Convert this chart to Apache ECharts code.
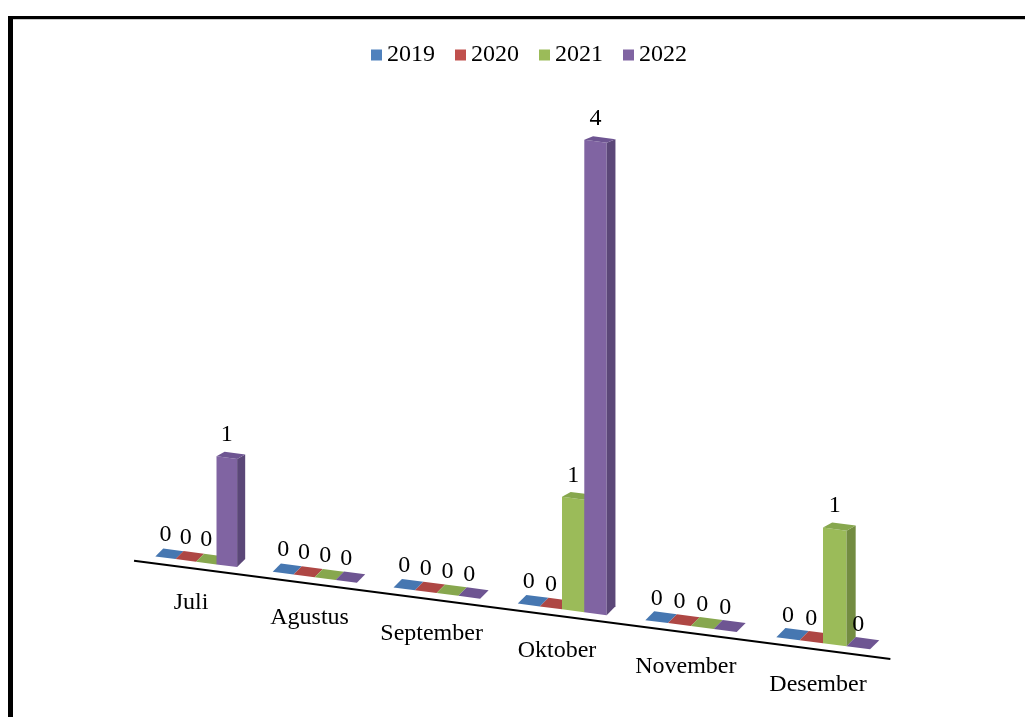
<!DOCTYPE html>
<html>
<head>
<meta charset="utf-8">
<title>Grafik 2019-2022</title>
<script src="https://cdn.jsdelivr.net/npm/echarts@6/dist/echarts.min.js"></script>
<style>
  html, body { margin: 0; padding: 0; background: #fff; }
  #chart { width: 1025px; height: 717px; }
</style>
</head>
<body>
<div id="chart"></div>
<script>
// Categories and values per year
const months = ['Juli', 'Agustus', 'September', 'Oktober', 'November', 'Desember'];
const years = ['2019', '2020', '2021', '2022'];
const v2019 = [0, 0, 0, 0, 0, 0];
const v2020 = [0, 0, 0, 0, 0, 0];
const v2021 = [0, 0, 0, 1, 0, 1];
const v2022 = [1, 0, 0, 4, 0, 0];
const seriesValues = [v2019, v2020, v2021, v2022];

// Face colours of the 3D prisms (front / right side / top)
const frontColors = ['#4F81BD', '#C0504D', '#9BBB59', '#8064A2'];
const sideColors  = ['#3A5F8D', '#8F3B39', '#738C41', '#5B4778'];
const topColors   = ['#4677B1', '#AE4744', '#87A74E', '#6E5592'];

// Perspective look of the floor
const TILT = 0.13;        // downward slope of the floor line
const CURVE = 1.7;        // foreshortening along the category axis
const VSTRETCH = 0.00015; // growth of tall prisms towards the viewer
const BAR_FRAC = 0.175;   // bar width as part of one category band
const DEPTH_X = 8;        // depth offset of the prisms
const DEPTH_Y = 8;
const FONT = '"Liberation Serif", "Times New Roman", serif';

function makeProjection(origin, band) {
  const X0 = origin[0];
  const k = CURVE / (band * band);
  return {
    x: lin => { const d = lin - X0; return X0 - 2 + d + k * d * d; },
    scale: lin => 1 + 2 * k * (lin - X0),
    floor: xs => origin[1] + TILT * (xs - X0)
  };
}

function renderBar(params, api) {
  const j = years.indexOf(params.seriesName);
  const cat = api.value(0);
  const val = api.value(1);
  const origin = api.coord([0, 0]);
  const base = api.coord([cat, 0]);
  const topPt = api.coord([cat, val]);
  const band = api.size([1, 0])[0];
  const P = makeProjection(origin, band);

  const w = band * BAR_FRAC;
  const l = base[0] - 2 * w + j * w;
  const r = l + w;
  const xl = P.x(l), xr = P.x(r);
  const s = P.scale((l + r) / 2);
  const hl = base[1] - topPt[1];
  const h = hl * (1 + VSTRETCH * hl) * (1 + 0.5 * (s - 1));
  const ybl = P.floor(xl), ybr = P.floor(xr);
  const dx = DEPTH_X * s;
  const dyB = -DEPTH_Y * s;
  const dyT = val > 0 ? -(4.5 - 0.4 * Math.min(val - 1, 3)) * s : dyB;

  const children = [];
  if (val > 0) {
    children.push({
      type: 'polygon',
      shape: { points: [[xl, ybl], [xr, ybr], [xr, ybr - h], [xl, ybl - h]] },
      style: { fill: frontColors[j] }
    });
    children.push({
      type: 'polygon',
      shape: { points: [[xr, ybr], [xr + dx, ybr + dyB], [xr + dx, ybr - h + dyT], [xr, ybr - h]] },
      style: { fill: sideColors[j] }
    });
  }
  children.push({
    type: 'polygon',
    shape: { points: [[xl, ybl - h], [xr, ybr - h], [xr + dx, ybr - h + dyT], [xl + dx, ybl - h + dyT]] },
    style: { fill: topColors[j] }
  });
  children.push({
    type: 'text',
    style: {
      x: (xl + xr) / 2,
      y: (ybl + ybr) / 2 - h - 23,
      text: String(val),
      fill: '#000',
      font: '24px ' + FONT,
      align: 'center',
      verticalAlign: 'middle'
    }
  });
  return { type: 'group', children: children };
}

function renderAxis(params, api) {
  const cat = api.value(0);
  const origin = api.coord([0, 0]);
  const base = api.coord([cat, 0]);
  const band = api.size([1, 0])[0];
  const P = makeProjection(origin, band);
  const xs = P.x(base[0]);
  const children = [];
  if (params.dataIndex === 0) {
    const x1 = P.x(origin[0] - band / 2 - 4);
    const x2 = P.x(origin[0] + (months.length - 0.5) * band);
    children.push({
      type: 'line',
      shape: { x1: x1, y1: P.floor(x1) + 7, x2: x2, y2: P.floor(x2) + 7 },
      style: { stroke: '#000', lineWidth: 2 }
    });
  }
  children.push({
    type: 'text',
    style: {
      x: xs - 5,
      y: P.floor(xs) + 41,
      text: months[cat],
      fill: '#000',
      font: '24px ' + FONT,
      align: 'center',
      verticalAlign: 'middle'
    }
  });
  return { type: 'group', children: children };
}

const chart = echarts.init(document.getElementById('chart'), null, { renderer: 'canvas' });

const barSeries = years.map((y, j) => ({
  name: y,
  type: 'custom',
  renderItem: renderBar,
  itemStyle: { color: frontColors[j] },
  encode: { x: 0, y: 1 },
  data: seriesValues[j].map((v, i) => [i, v]),
  silent: true,
  z: 3
}));

chart.setOption({
  backgroundColor: '#fff',
  animation: false,
  legend: {
    data: years,
    left: 366,
    top: 38,
    icon: 'rect',
    itemWidth: 11,
    itemHeight: 11,
    itemGap: 20,
    textStyle: { fontFamily: FONT, fontSize: 24, color: '#000' }
  },
  grid: { left: 139.55, right: 184.05, top: 32, bottom: 155 },
  xAxis: { type: 'category', data: months, show: false },
  yAxis: { type: 'value', min: 0, max: 5, show: false },
  graphic: [
    { type: 'rect', shape: { x: 8, y: 16, width: 5, height: 701 }, style: { fill: '#000' } },
    { type: 'rect', shape: { x: 8, y: 16, width: 1017, height: 3 }, style: { fill: '#000' } },
    { type: 'line', shape: { x1: 13, y1: 19.5, x2: 1025, y2: 19.5 }, style: { stroke: '#c8c8c8', lineWidth: 1 } }
  ],
  series: [
    {
      name: 'axis',
      type: 'custom',
      renderItem: renderAxis,
      encode: { x: 0, y: 1 },
      data: months.map((m, i) => [i, 0]),
      silent: true,
      z: 2
    }
  ].concat(barSeries)
});
</script>
</body>
</html>
